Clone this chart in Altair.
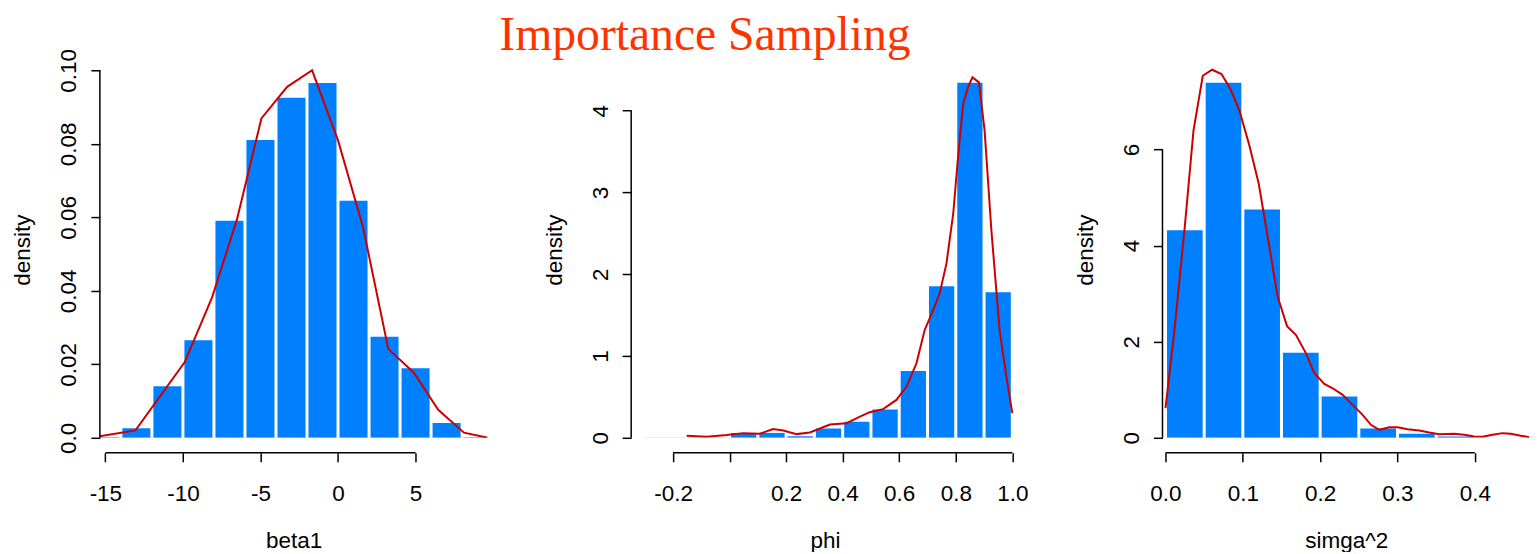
import altair as alt
import pandas as pd

# ---------------- data ----------------
# Panel 1: beta1
b1_breaks = [-16, -14, -12, -10, -8, -6, -4, -2, 0, 2, 4, 6, 8, 10]
b1_density = [0.0004, 0.0029, 0.0143, 0.0268, 0.0593, 0.0813, 0.0928, 0.0968,
              0.0648, 0.0278, 0.0192, 0.0043, 0.0004]
b1_kde_x = [-15.37, -13.06, -9.88, -8.12, -6.51, -4.94, -3.28, -1.67, 0.01,
            1.62, 3.24, 4.89, 6.46, 8.12, 9.67]
b1_kde_y = [0.0004, 0.0020, 0.0206, 0.0382, 0.0595, 0.0869, 0.0955, 0.1000,
            0.0808, 0.0572, 0.0242, 0.0177, 0.0076, 0.0014, 0.0]
b1_xticks = [-15, -10, -5, 0, 5]
b1_yticks = [0.0, 0.02, 0.04, 0.06, 0.08, 0.10]

# Panel 2: phi
p_breaks = [-0.3, -0.2, -0.1, 0.0, 0.1, 0.2, 0.3, 0.4, 0.5, 0.6, 0.7, 0.8, 0.9, 1.0]
p_density = [0.0, 0.0, 0.0, 0.07, 0.07, 0.03, 0.126, 0.207, 0.358, 0.829,
             1.866, 4.354, 1.793]
p_kde_x = [-0.152, -0.081, -0.010, 0.048, 0.107, 0.154, 0.190, 0.237, 0.284,
           0.355, 0.414, 0.461, 0.496, 0.543, 0.590, 0.626, 0.661, 0.690,
           0.720, 0.743, 0.767, 0.791, 0.808, 0.826, 0.843, 0.859, 0.882,
           0.902, 0.926, 0.955, 0.979, 1.000]
p_kde_y = [0.024, 0.012, 0.033, 0.057, 0.049, 0.106, 0.089, 0.045, 0.065,
           0.163, 0.179, 0.260, 0.313, 0.350, 0.463, 0.626, 0.911, 1.317,
           1.561, 1.764, 2.130, 2.740, 3.431, 4.081, 4.285, 4.407, 4.346,
           3.756, 2.537, 1.317, 0.748, 0.301]
p_xticks = [-0.2, 0.0, 0.2, 0.4, 0.6, 0.8, 1.0]
p_yticks = [0, 1, 2, 3, 4]

# Panel 3: simga^2
s_breaks = [0.0, 0.05, 0.10, 0.15, 0.20, 0.25, 0.30, 0.35, 0.40]
s_density = [4.339, 7.412, 4.775, 1.792, 0.879, 0.215, 0.104, 0.048]
s_kde_x = [0.000, 0.0116, 0.0245, 0.0362, 0.0482, 0.0603, 0.0724, 0.0840,
           0.0956, 0.1085, 0.1206, 0.1322, 0.1451, 0.1572, 0.1688, 0.1817,
           0.1925, 0.2054, 0.2162, 0.2291, 0.2420, 0.2549, 0.2657, 0.2765,
           0.2894, 0.3002, 0.3131, 0.3282, 0.3411, 0.3540, 0.3734, 0.3863,
           0.3992, 0.4100, 0.4229, 0.4358, 0.4466, 0.4595, 0.4703]
s_kde_y = [0.616, 2.242, 4.318, 6.394, 7.536, 7.661, 7.571, 7.260, 6.810,
           6.083, 5.287, 4.180, 2.934, 2.325, 2.138, 1.758, 1.343, 1.121,
           1.031, 0.893, 0.685, 0.478, 0.270, 0.166, 0.221, 0.221, 0.180,
           0.152, 0.111, 0.076, 0.083, 0.062, 0.028, 0.021, 0.062, 0.097,
           0.083, 0.042, 0.014]
s_xticks = [0.0, 0.1, 0.2, 0.3, 0.4]
s_yticks = [0, 2, 4, 6]

# ---------------- styling ----------------
FONT = "Liberation Sans"
FS = 22.5
BAR = "#0080FF"
LINE = "#CC0000"
H = 377
W = 388
MINUS = "\u2212"


def panel(breaks, dens, kx, ky, xdom, ydom, xticks, yticks, xfmt, yexpr,
          xtitle, width):
    bars = pd.DataFrame({"x0": breaks[:-1], "x1": breaks[1:], "d": dens})
    kde = pd.DataFrame({"x": kx, "y": ky})
    xscale = alt.Scale(domain=xdom, nice=False, zero=False)
    yscale = alt.Scale(domain=ydom, nice=False, zero=False)
    xlabel = f"replace(format(datum.value, '{xfmt}'), '{MINUS}', '-')"
    if xfmt == ".1f" and -0.2 in xticks:
        xlabel = f"datum.value == 0 ? '' : {xlabel}"
    xaxis = alt.Axis(values=xticks, domain=False, grid=False, offset=15,
                     tickSize=9, tickWidth=1.5, tickColor="black",
                     labelExpr=xlabel, labelFont=FONT, labelFontSize=FS,
                     labelColor="black", labelPadding=21, labelFlush=False,
                     labelOverlap=False,
                     title=xtitle, titleFont=FONT, titleFontSize=FS,
                     titleFontWeight="normal", titleColor="black",
                     titlePadding=24)
    yaxis = alt.Axis(values=yticks, domain=False, grid=False,
                     tickSize=9, tickWidth=1.5, tickColor="black",
                     labelExpr=yexpr, labelAngle=-90, labelAlign="center",
                     labelBaseline="bottom", labelFont=FONT, labelFontSize=FS,
                     labelColor="black", labelPadding=10, labelFlush=False,
                     labelOverlap=False, minExtent=42, maxExtent=42,
                     title="density", titleFont=FONT, titleFontSize=FS,
                     titleFontWeight="normal", titleColor="black",
                     titlePadding=23)

    base_rule = alt.Chart(pd.DataFrame({"a": [breaks[0]], "b": [breaks[-1]]})).mark_rule(
        color="#dedede", strokeWidth=1, clip=True
    ).encode(
        x=alt.X("a:Q", scale=xscale, axis=xaxis),
        x2="b:Q",
        y=alt.Y(datum=0, scale=yscale, axis=yaxis),
    )
    bar = alt.Chart(bars).mark_bar(
        color=BAR, clip=True, xOffset=1.5, x2Offset=-1.5, yOffset=1
    ).encode(
        x=alt.X("x0:Q", scale=xscale),
        x2="x1:Q",
        y=alt.Y("d:Q", scale=yscale),
        y2=alt.datum(0),
    )
    line = alt.Chart(kde).mark_line(color=LINE, strokeWidth=2, clip=True).encode(
        x=alt.X("x:Q", scale=xscale),
        y=alt.Y("y:Q", scale=yscale),
    )
    xline = alt.Chart(pd.DataFrame({"a": [xticks[0]], "b": [xticks[-1]]})).mark_rule(
        color="black", strokeWidth=1.5
    ).encode(
        x=alt.X("a:Q", scale=xscale),
        x2="b:Q",
        y=alt.value(H + 15),
    )
    yline = alt.Chart(pd.DataFrame({"a": [yticks[0]], "b": [yticks[-1]]})).mark_rule(
        color="black", strokeWidth=1.5
    ).encode(
        x=alt.value(0),
        y=alt.Y("a:Q", scale=yscale),
        y2="b:Q",
    )
    return alt.layer(base_rule, bar, line, xline, yline).properties(width=width, height=H)


p1 = panel(b1_breaks, b1_density, b1_kde_x, b1_kde_y, [-15.354, 9.63],
           [0, 0.10245], b1_xticks, b1_yticks, "d",
           "datum.value == 0 ? '0.0' : format(datum.value, '.2f')", "beta1", W)
p2 = panel(p_breaks, p_density, p_kde_x, p_kde_y, [-0.348, 1.0225],
           [0, 4.604], p_xticks, p_yticks, ".1f",
           "format(datum.value, 'd')", "phi", W)
p3 = panel(s_breaks, s_density, s_kde_x, s_kde_y, [-0.0039, 0.4714],
           [0, 7.837], s_xticks, s_yticks, ".1f",
           "format(datum.value, 'd')", "simga^2", 368)

chart = alt.hconcat(p1, p2, p3, spacing=144, bounds="flush").properties(
    title=alt.TitleParams(
        "Importance Sampling", font="Liberation Serif", fontSize=47.7,
        fontWeight="normal", color="#FF3300", anchor="start", frame="group",
        dx=400, offset=-11,
    ),
    padding={"left": 4, "top": 3, "right": 0, "bottom": 0},
).configure_view(stroke=None)

chart.save("out.html", embed_options={"renderer": "svg", "actions": False})
